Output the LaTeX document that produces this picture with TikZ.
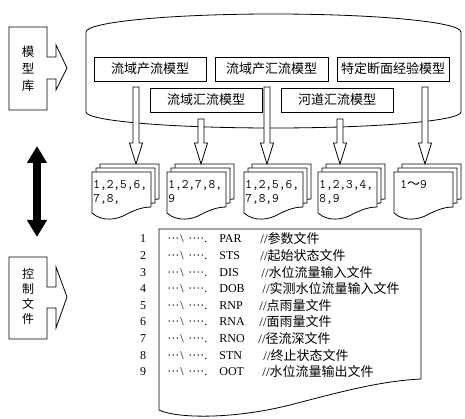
\documentclass[tikz,border=0pt]{standalone}
\usepackage{fontspec}
\newfontfamily\cjk{Noto Sans CJK SC}
\newfontfamily\tms{Liberation Serif}
\usetikzlibrary{arrows.meta,calc}
\newcommand\blockarrow[2]{%
  \draw[fill=white] ($(#1)+(-3,0)$) -- ($(#2)+(-3,-21)$) -- ($(#2)+(-6.5,-21)$) -- (#2)
    -- ($(#2)+(6.5,-21)$) -- ($(#2)+(3,-21)$) -- ($(#1)+(3,0)$) -- cycle;}
\newcommand\docstack[2]{%
  \foreach \d in {8,4,0}{%
    \begin{scope}[shift={({#1+\d},{#2-\d})}]
      \draw[fill=white] (0,0) -- (59,0) -- (59,35) .. controls (52,35) and (45,37) .. (35,42)
        .. controls (25,48) and (10,50) .. (0,41) -- cycle;
    \end{scope}}}
\newcommand\mydots[1]{\foreach \k in {1,...,#1}{\makebox[4pt]{·}}}
\begin{document}
\begin{tikzpicture}[x=1pt,y=-1pt,line width=0.8pt,
  mbox/.style={draw,fill=white,minimum width=112pt,minimum height=24pt,inner sep=0pt,
    font=\cjk\fontsize{13}{13}\selectfont},
  doctext/.style={anchor=north west,align=left,inner sep=0pt,
    font=\ttfamily\fontsize{13}{14}\selectfont},
  vtext/.style={align=center,inner sep=0pt},
  numtext/.style={inner sep=0pt,font=\tms\fontsize{12}{12}\selectfont},
  linetext/.style={anchor=west,inner sep=0pt,font=\tms\fontsize{12}{12}\selectfont},
  cmtext/.style={anchor=west,inner sep=0pt,font=\fontsize{13}{13}\selectfont}]
\useasboundingbox (0,0) rectangle (465,419);
\fill[white] (0,0) rectangle (465,419);

% cylinder (model library)
\draw[fill=white] (86,32) arc[start angle=180,end angle=360,x radius=187.5,y radius=18]
  -- (461,112) arc[start angle=0,end angle=180,x radius=187.5,y radius=16] -- cycle;

% model boxes
\node[mbox] (m1) at (150,69) {流域产流模型};
\node[mbox,minimum width=113pt] (m2) at (271.5,69) {流域产汇流模型};
\node[mbox] (m3) at (393,69) {特定断面经验模型};
\node[mbox] (m4) at (206,100) {流域汇流模型};
\node[mbox] (m5) at (337,100) {河道汇流模型};

% documents
\docstack{92}{172}
\docstack{167}{172}
\docstack{244}{172}
\docstack{318}{172}
\docstack{394}{172}
\node[doctext] (d1) at (93,180) {1,2,5,6,\\7,8,};
\node[doctext] (d2) at (168,180) {1,2,7,8,\\9};
\node[doctext] (d3) at (245,180) {1,2,5,6,\\7,8,9};
\node[doctext] (d4) at (319,180) {1,2,3,4,\\8,9};
\node[doctext] (d5) at (400,180) {1{\cjk\fontsize{13}{13}\selectfont ～}9};

% hollow arrows
\coordinate (a1s) at (136,87);  \coordinate (a1e) at (136,164);
\coordinate (a2s) at (201,119); \coordinate (a2e) at (201,164);
\coordinate (a3s) at (267,87);  \coordinate (a3e) at (267,164);
\coordinate (a4s) at (340,119); \coordinate (a4e) at (340,164);
\coordinate (a5s) at (425,87);  \coordinate (a5e) at (425,164);
\blockarrow{a1s}{a1e}
\blockarrow{a2s}{a2e}
\blockarrow{a3s}{a3e}
\blockarrow{a4s}{a4e}
\blockarrow{a5s}{a5e}

% double arrow
\coordinate (da1) at (37,146);
\coordinate (da2) at (37,237);
\draw[line width=8pt,{Triangle[length=17pt,width=19pt]}-{Triangle[length=17pt,width=19pt]}] (da1) -- (da2);

% left labels with arrows
\draw (9,27) -- (47,27) -- (47,57) -- (56,57) -- (56,45) -- (67,68) -- (56,90) -- (56,79)
  -- (47,79) -- (47,110) -- (9,110) -- cycle;
\node[vtext,font=\cjk\fontsize{12.5}{17}\selectfont] (lib) at (28,69) {模\\型\\库};
\draw (9,257) -- (47,257) -- (47,287) -- (56,287) -- (56,267) -- (67,297) -- (56,328) -- (56,308)
  -- (47,308) -- (47,339) -- (9,339) -- cycle;
\node[vtext,font=\cjk\fontsize{12}{15}\selectfont] (ctl) at (28,296) {控\\制\\文\\件};

% control file document
\draw[fill=white] (159,229) -- (421,229) -- (421,379)
  .. controls (380,381) and (340,392) .. (290,405)
  .. controls (230,420) and (175,418) .. (159,410) -- cycle;
\foreach \i/\ext/\cx/\cm in {1/PAR/260/参数文件,2/STS/260/起始状态文件,3/DIS/261/水位流量输入文件,
  4/DOB/262/实测水位流量输入文件,5/RNP/259/点雨量文件,6/RNA/259/面雨量文件,
  7/RNO/258/径流深文件,8/STN/263/终止状态文件,9/OOT/262/水位流量输出文件}{
  \pgfmathsetmacro\yy{239+(\i-1)*16.6}
  \node[numtext] (n\i) at (143,\yy) {\i};
  \node[linetext] (f\i) at (167,\yy) {\makebox[13pt][l]{···}\makebox[8pt][l]{\textbackslash}\mydots{4}.};
  \node[linetext] (e\i) at (219,\yy) {\ext};
  \node[cmtext] (c\i) at (\cx,\yy) {{\tms\fontsize{13}{13}\selectfont //}{\cjk \cm}};
}
\end{tikzpicture}
\end{document}
